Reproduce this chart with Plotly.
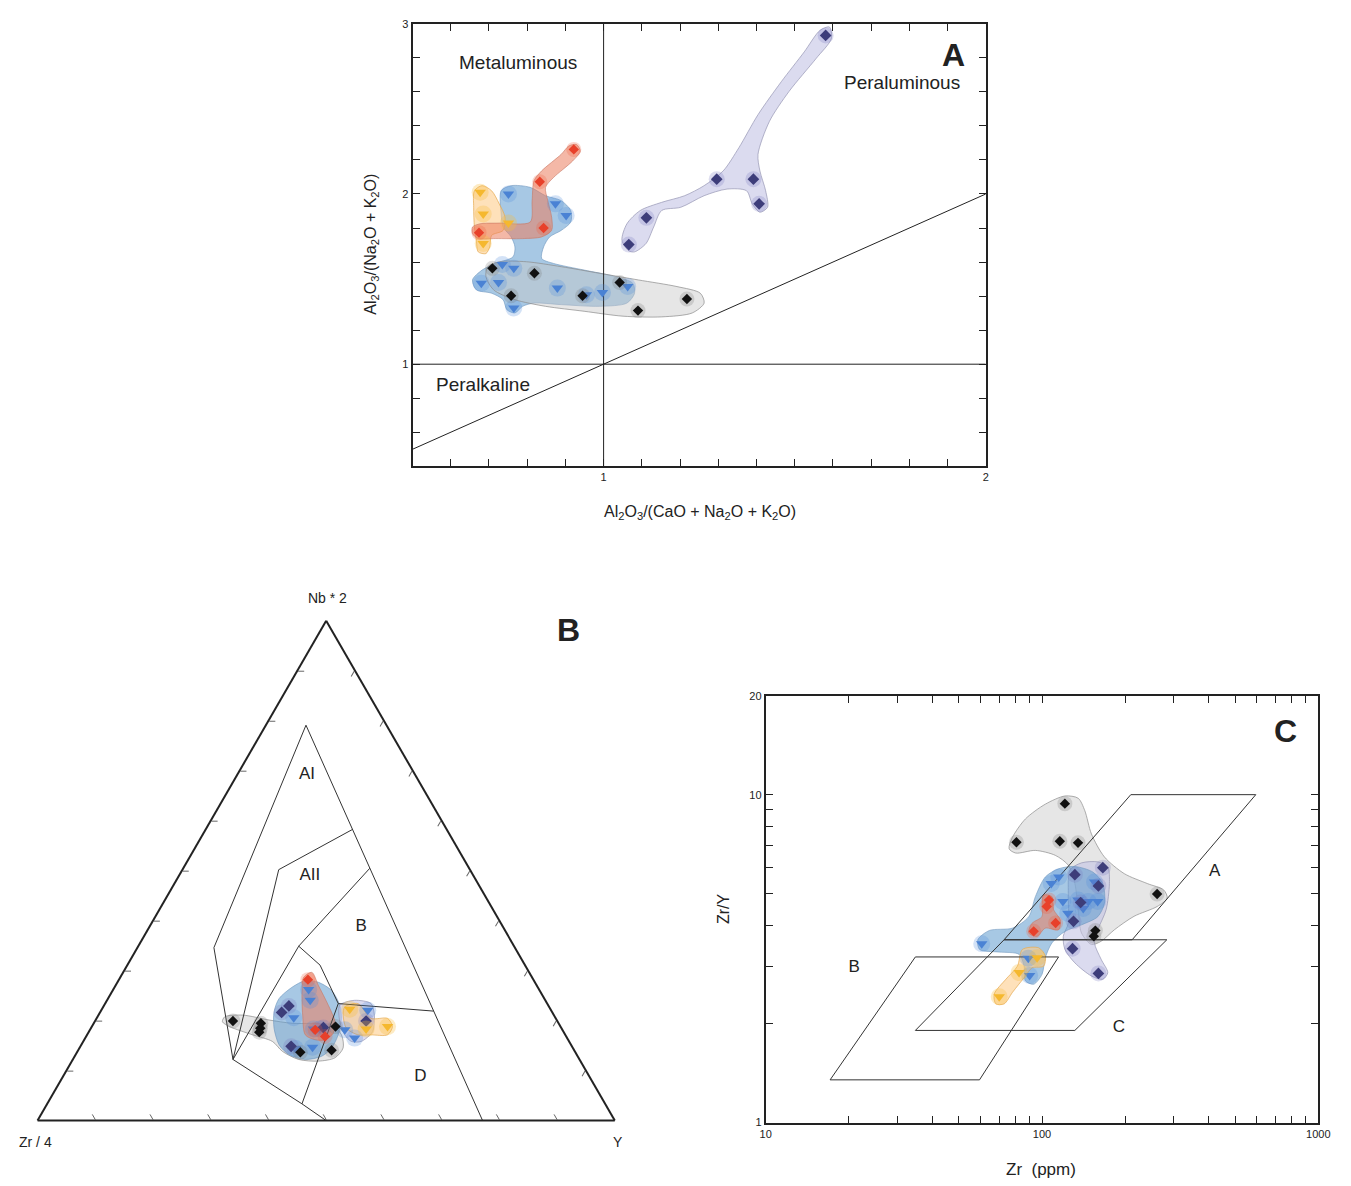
import numpy as np
import plotly.graph_objects as go

W, H = 1351, 1186
FONT = "Arial, Liberation Sans, Helvetica, sans-serif"
INK = "#222222"

# ---------------- Panel A : Shand index ----------------
a_black_x = [0.709, 0.819, 0.758, 0.945, 1.042, 1.090, 1.218]
a_black_y = [1.563, 1.534, 1.402, 1.402, 1.480, 1.315, 1.383]
a_purple_x = [1.581, 1.296, 1.392, 1.407, 1.112, 1.066]
a_purple_y = [2.932, 2.087, 2.087, 1.942, 1.860, 1.703]
a_blue_x = [0.751, 0.874, 0.902, 0.735, 0.765, 0.680, 0.725, 0.879, 0.955, 0.997, 1.063, 0.765]
a_blue_y = [2.000, 1.942, 1.874, 1.586, 1.563, 1.476, 1.480, 1.447, 1.408, 1.421, 1.456, 1.330]
a_yellow_x = [0.677, 0.685, 0.751, 0.685]
a_yellow_y = [2.010, 1.883, 1.829, 1.709]
a_red_x = [0.922, 0.833, 0.843, 0.674]
a_red_y = [2.262, 2.072, 1.800, 1.773]

a_vline = ([1.0, 1.0], [0.4, 3.0])
a_hline = ([0.5, 2.0], [1.0, 1.0])
a_diag = ([0.5, 2.0], [0.5, 2.0])

env_a_purple = [(1.066, 1.666), (1.048, 1.728), (1.061, 1.825), (1.096, 1.903), (1.152, 1.951), (1.212, 1.990),
                (1.263, 2.049), (1.313, 2.136), (1.354, 2.272), (1.404, 2.466), (1.465, 2.660), (1.525, 2.835),
                (1.566, 2.961), (1.591, 2.981), (1.596, 2.913), (1.556, 2.796), (1.485, 2.602), (1.434, 2.427),
                (1.404, 2.233), (1.409, 2.136), (1.424, 2.019), (1.429, 1.922), (1.409, 1.893), (1.389, 1.942),
                (1.374, 2.019), (1.323, 2.029), (1.263, 1.990), (1.202, 1.922), (1.152, 1.903), (1.131, 1.806),
                (1.111, 1.709), (1.081, 1.660)]
env_a_grey = [(0.697, 1.573), (0.727, 1.602), (0.798, 1.602), (0.889, 1.573), (0.990, 1.534), (1.091, 1.495),
              (1.192, 1.456), (1.253, 1.417), (1.263, 1.359), (1.232, 1.301), (1.152, 1.278), (1.051, 1.282),
              (0.949, 1.311), (0.848, 1.340), (0.768, 1.379), (0.712, 1.437), (0.692, 1.515)]
env_a_blue = [(0.732, 2.019), (0.758, 2.049), (0.808, 2.039), (0.848, 1.990), (0.889, 1.961), (0.914, 1.903),
              (0.914, 1.835), (0.889, 1.786), (0.859, 1.748), (0.843, 1.689), (0.838, 1.621), (0.869, 1.592),
              (0.949, 1.553), (1.030, 1.515), (1.076, 1.476), (1.081, 1.417), (1.061, 1.359), (0.990, 1.340),
              (0.889, 1.350), (0.818, 1.359), (0.788, 1.340), (0.768, 1.301), (0.747, 1.320), (0.737, 1.379),
              (0.707, 1.417), (0.667, 1.437), (0.657, 1.495), (0.682, 1.553), (0.717, 1.592), (0.763, 1.631),
              (0.768, 1.689), (0.758, 1.748), (0.737, 1.806), (0.732, 1.883)]
env_a_red = [(0.657, 1.806), (0.677, 1.825), (0.727, 1.829), (0.808, 1.835), (0.813, 1.961), (0.818, 2.078),
             (0.838, 2.136), (0.889, 2.233), (0.909, 2.282), (0.929, 2.291), (0.939, 2.252), (0.919, 2.194),
             (0.869, 2.097), (0.848, 2.039), (0.854, 1.961), (0.864, 1.864), (0.864, 1.786), (0.838, 1.748),
             (0.788, 1.738), (0.717, 1.738), (0.672, 1.738), (0.657, 1.767)]
env_a_yellow = [(0.662, 2.019), (0.682, 2.049), (0.707, 2.019), (0.727, 1.942), (0.742, 1.864), (0.737, 1.786),
                (0.707, 1.757), (0.702, 1.689), (0.692, 1.650), (0.672, 1.660), (0.667, 1.728), (0.662, 1.806),
                (0.660, 1.922)]

# ---------------- Panel B : Nb*2 - Zr/4 - Y ternary (a = Nb*2, c = Y) ----------------
b_black_a = [0.1992, 0.1947, 0.1848, 0.1769, 0.1367, 0.1406, 0.1880]
b_black_c = [0.2389, 0.2895, 0.2934, 0.2956, 0.3869, 0.4391, 0.4222]
b_purple_a = [0.2164, 0.2294, 0.1485, 0.1860, 0.1992]
b_purple_c = [0.3146, 0.3207, 0.3650, 0.4022, 0.4696]
b_blue_a = [0.2623, 0.2406, 0.2057, 0.1834, 0.1834, 0.1815, 0.1650, 0.2209, 0.1466, 0.1440]
b_blue_c = [0.3384, 0.3520, 0.3410, 0.3864, 0.3977, 0.4415, 0.4668, 0.4616, 0.4031, 0.3747]
b_red_a = [0.2820, 0.1683, 0.1815]
b_red_c = [0.3274, 0.4139, 0.3902]
b_yellow_a = [0.2229, 0.1834, 0.1880]
b_yellow_c = [0.4293, 0.4775, 0.5123]

b_fields = [
    [(0.791, 0.0695), (0.0, 0.771)],
    [(0.791, 0.0695), (0.346, 0.1325), (0.1223, 0.2774), (0.0335, 0.4413), (0.0, 0.5)],
    [(0.1223, 0.2774), (0.502, 0.1668), (0.5825, 0.2544)],
    [(0.1223, 0.2774), (0.349, 0.2779), (0.5049, 0.3232)],
    [(0.349, 0.2779), (0.311, 0.3339), (0.2341, 0.4039), (0.0335, 0.4413)],
    [(0.2341, 0.4039), (0.219, 0.5768)],
]
b_field_labels = ["AI", "AII", "B", "D"]
b_field_label_a = [0.692, 0.489, 0.3886, 0.0868]
b_field_label_c = [0.1207, 0.2272, 0.3664, 0.6198]

env_b_grey = [(0.2077, 0.2205), (0.2110, 0.2501), (0.2012, 0.3006), (0.1947, 0.3437), (0.1913, 0.4137),
              (0.1716, 0.4407), (0.1453, 0.4567), (0.1256, 0.4523), (0.1190, 0.4271), (0.1223, 0.3913),
              (0.1387, 0.3546), (0.1584, 0.3276), (0.1716, 0.2868), (0.1880, 0.2388), (0.1979, 0.2213)]
env_b_blue = [(0.2440, 0.2963), (0.2669, 0.3076), (0.2801, 0.3238), (0.2767, 0.3482), (0.2604, 0.3792),
              (0.2308, 0.4082), (0.2045, 0.4242), (0.1716, 0.4350), (0.1453, 0.4367), (0.1288, 0.4279),
              (0.1223, 0.4027), (0.1321, 0.3693), (0.1519, 0.3424), (0.1848, 0.3173), (0.2176, 0.3009)]
env_b_purple = [(0.2308, 0.4082), (0.2406, 0.4290), (0.2341, 0.4607), (0.2110, 0.4780), (0.1781, 0.4915),
                (0.1584, 0.4815), (0.1584, 0.4644), (0.1716, 0.4464), (0.1979, 0.4247)]
env_b_red = [(0.2866, 0.3177), (0.2965, 0.3270), (0.2702, 0.3515), (0.2308, 0.3883), (0.1979, 0.4162),
             (0.1749, 0.4248), (0.1617, 0.4171), (0.1617, 0.4000), (0.1716, 0.3780), (0.2110, 0.3538),
             (0.2570, 0.3296)]
env_b_yellow = [(0.2274, 0.4185), (0.2341, 0.4379), (0.2045, 0.4755), (0.2045, 0.5040), (0.1880, 0.5208),
                (0.1716, 0.5205), (0.1716, 0.4920), (0.1716, 0.4692), (0.1848, 0.4426), (0.2110, 0.4239)]

# ---------------- Panel C : Zr/Y vs Zr ----------------
c_black_x = [121, 80.8, 116, 135, 261, 156, 154]
c_black_y = [9.39, 7.16, 7.21, 7.13, 4.98, 3.85, 3.70]
c_purple_x = [166, 131.5, 160, 138, 130, 129, 160]
c_purple_y = [5.99, 5.70, 5.27, 4.69, 4.11, 3.39, 2.85]
c_blue_x = [115, 108, 155, 119, 135, 147, 159, 141, 124, 60.5, 90.2, 89.2]
c_blue_y = [5.61, 5.36, 5.42, 4.72, 4.77, 4.72, 4.72, 4.50, 4.35, 3.51, 2.81, 3.17]
c_red_x = [106, 104, 112, 93.3]
c_red_y = [4.77, 4.56, 4.06, 3.83]
c_yellow_x = [96, 82.6, 70]
c_yellow_y = [3.18, 2.87, 2.42]

c_field_A = [(209.6, 10.0), (594, 10.0), (212, 3.61), (72.9, 3.61), (209.6, 10.0)]
c_field_C = [(72.9, 3.61), (283, 3.61), (131.5, 1.91), (34.8, 1.91), (72.9, 3.61)]
c_field_B = [(34.8, 3.2), (114.8, 3.2), (59.4, 1.35), (17.1, 1.35), (34.8, 3.2)]
c_field_labels = ["A", "B", "C"]
c_field_label_x = [422, 20.9, 190]
c_field_label_y = [5.81, 2.96, 1.95]

# envelopes stored as (log10 Zr, log10 Zr/Y)
env_c_grey_log = [(1.881, 0.835), (1.893, 0.870), (1.940, 0.926), (2.012, 0.971), (2.083, 0.996), (2.131, 0.989),
                  (2.155, 0.951), (2.179, 0.880), (2.226, 0.810), (2.298, 0.759), (2.381, 0.729), (2.441, 0.709),
                  (2.453, 0.684), (2.417, 0.659), (2.333, 0.629), (2.262, 0.588), (2.214, 0.553), (2.179, 0.543),
                  (2.143, 0.578), (2.131, 0.649), (2.119, 0.729), (2.095, 0.785), (2.048, 0.815), (1.976, 0.830),
                  (1.905, 0.822)]
env_c_purple_log = [(2.101, 0.770), (2.143, 0.792), (2.202, 0.795), (2.238, 0.780), (2.244, 0.729), (2.232, 0.649),
                    (2.202, 0.588), (2.190, 0.548), (2.214, 0.498), (2.238, 0.457), (2.220, 0.437), (2.179, 0.447),
                    (2.119, 0.487), (2.083, 0.528), (2.077, 0.568), (2.095, 0.608), (2.095, 0.699)]
env_c_blue_log = [(2.060, 0.774), (2.012, 0.749), (1.976, 0.689), (1.952, 0.628), (1.893, 0.593), (1.810, 0.586),
                  (1.768, 0.558), (1.774, 0.528), (1.845, 0.520), (1.917, 0.513), (1.935, 0.477), (1.940, 0.432),
                  (1.970, 0.422), (2.000, 0.452), (2.012, 0.503), (2.036, 0.548), (2.083, 0.583), (2.143, 0.603),
                  (2.202, 0.628), (2.226, 0.669), (2.220, 0.729), (2.184, 0.764), (2.119, 0.781)]
env_c_red_log = [(2.006, 0.694), (2.036, 0.689), (2.042, 0.649), (2.066, 0.618), (2.060, 0.588), (2.012, 0.593),
                 (1.982, 0.568), (1.952, 0.578), (1.964, 0.608), (2.000, 0.628), (2.000, 0.664)]
env_c_yellow_log = [(1.929, 0.528), (1.988, 0.533), (2.012, 0.508), (2.006, 0.477), (1.964, 0.472), (1.940, 0.447),
                    (1.893, 0.397), (1.863, 0.362), (1.833, 0.362), (1.827, 0.392), (1.869, 0.437), (1.911, 0.477)]

# tick positions
a_xticks_major = [1.0, 2.0]
a_xticks_minor = [round(0.5 + 0.1 * i, 1) for i in range(16) if round(0.5 + 0.1 * i, 1) not in (1.0, 2.0)]
a_yticks_major = [1.0, 2.0, 3.0]
a_yticks_minor = [round(0.4 + 0.2 * i, 1) for i in range(14) if round(0.4 + 0.2 * i, 1) not in (1.0, 2.0, 3.0)]
c_xticks_major = [10, 100, 1000]
c_xticks_minor = [m * 10 ** e for e in (1, 2) for m in range(2, 10)]
c_yticks_major = [1, 10, 20]
c_yticks_minor = list(range(2, 10))

# ---------------- styles ----------------
ENV = {
    "grey": ("rgba(200,200,200,0.45)", "rgba(140,140,140,0.7)"),
    "blue": ("rgba(95,155,205,0.55)", "rgba(110,150,190,0.6)"),
    "red": ("rgba(235,125,95,0.55)", "rgba(200,120,100,0.6)"),
    "yellow": ("rgba(253,205,140,0.6)", "rgba(230,170,80,0.7)"),
    "purple": ("rgba(195,195,228,0.6)", "rgba(150,150,180,0.7)"),
}
MK = {
    "black": dict(symbol="diamond", size=8, color="#111111"),
    "purple": dict(symbol="diamond", size=9, color="#3d3d7a"),
    "blue": dict(symbol="triangle-down", size=10, color="#4a82d4"),
    "red": dict(symbol="diamond", size=8, color="#e8402a"),
    "yellow": dict(symbol="triangle-down", size=10, color="#f5b82e"),
}
HALO = {
    "black": "rgba(120,120,120,0.25)",
    "purple": "rgba(120,120,190,0.25)",
    "blue": "rgba(80,140,220,0.25)",
    "red": "rgba(240,90,60,0.25)",
    "yellow": "rgba(250,190,60,0.3)",
}

fig = go.Figure()


def close(pts):
    return list(pts) + [pts[0]]


def halo(name):
    return dict(symbol="circle", size=MK[name]["size"] + 7, color=HALO[name])


# ---- Panel A ----
for name, env in [("blue", env_a_blue), ("yellow", env_a_yellow), ("grey", env_a_grey),
                  ("red", env_a_red), ("purple", env_a_purple)]:
    p = close(env)
    fig.add_trace(go.Scatter(x=[q[0] for q in p], y=[q[1] for q in p], mode="lines", fill="toself",
                             fillcolor=ENV[name][0], line=dict(color=ENV[name][1], width=1, shape="spline", smoothing=0.8),
                             hoverinfo="skip", xaxis="x", yaxis="y"))
for lx, ly in [a_vline, a_hline, a_diag]:
    fig.add_trace(go.Scatter(x=lx, y=ly, mode="lines", line=dict(color=INK, width=1), hoverinfo="skip",
                             xaxis="x", yaxis="y"))
for name, xs, ys in [("blue", a_blue_x, a_blue_y), ("yellow", a_yellow_x, a_yellow_y), ("red", a_red_x, a_red_y),
                     ("purple", a_purple_x, a_purple_y), ("black", a_black_x, a_black_y)]:
    fig.add_trace(go.Scatter(x=xs, y=ys, mode="markers", marker=halo(name), hoverinfo="skip", xaxis="x", yaxis="y"))
    fig.add_trace(go.Scatter(x=xs, y=ys, mode="markers", marker=MK[name], xaxis="x", yaxis="y"))

# ---- Panel B ----
for name, env in [("grey", env_b_grey), ("blue", env_b_blue), ("purple", env_b_purple),
                  ("yellow", env_b_yellow), ("red", env_b_red)]:
    p = close(env)
    aa = [q[0] for q in p]
    cc = [q[1] for q in p]
    fig.add_trace(go.Scatterternary(a=aa, c=cc, b=[1 - x - y for x, y in zip(aa, cc)], mode="lines", fill="toself",
                                    fillcolor=ENV[name][0], line=dict(color=ENV[name][1], width=1, shape="spline", smoothing=0.8),
                                    hoverinfo="skip", subplot="ternary"))
for seg in b_fields:
    aa = [q[0] for q in seg]
    cc = [q[1] for q in seg]
    fig.add_trace(go.Scatterternary(a=aa, c=cc, b=[1 - x - y for x, y in zip(aa, cc)], mode="lines",
                                    line=dict(color="#333333", width=1), hoverinfo="skip", subplot="ternary"))
for name, aa, cc in [("blue", b_blue_a, b_blue_c), ("purple", b_purple_a, b_purple_c), ("yellow", b_yellow_a, b_yellow_c),
                     ("red", b_red_a, b_red_c), ("black", b_black_a, b_black_c)]:
    bb = [1 - x - y for x, y in zip(aa, cc)]
    fig.add_trace(go.Scatterternary(a=aa, c=cc, b=bb, mode="markers", marker=halo(name), hoverinfo="skip",
                                    subplot="ternary"))
    fig.add_trace(go.Scatterternary(a=aa, c=cc, b=bb, mode="markers", marker=MK[name], subplot="ternary"))
fig.add_trace(go.Scatterternary(a=b_field_label_a, c=b_field_label_c,
                                b=[1 - x - y for x, y in zip(b_field_label_a, b_field_label_c)],
                                mode="text", text=b_field_labels, textfont=dict(family=FONT, size=17, color=INK),
                                hoverinfo="skip", subplot="ternary"))

# ---- Panel C ----
for name, env in [("grey", env_c_grey_log), ("purple", env_c_purple_log), ("blue", env_c_blue_log),
                  ("yellow", env_c_yellow_log), ("red", env_c_red_log)]:
    p = close(env)
    fig.add_trace(go.Scatter(x=[10 ** q[0] for q in p], y=[10 ** q[1] for q in p], mode="lines", fill="toself",
                             fillcolor=ENV[name][0], line=dict(color=ENV[name][1], width=1, shape="spline", smoothing=0.8),
                             hoverinfo="skip", xaxis="x2", yaxis="y2"))
for poly in [c_field_A, c_field_C, c_field_B]:
    fig.add_trace(go.Scatter(x=[q[0] for q in poly], y=[q[1] for q in poly], mode="lines",
                             line=dict(color="#333333", width=1), hoverinfo="skip", xaxis="x2", yaxis="y2"))
for name, xs, ys in [("blue", c_blue_x, c_blue_y), ("yellow", c_yellow_x, c_yellow_y), ("red", c_red_x, c_red_y),
                     ("purple", c_purple_x, c_purple_y), ("black", c_black_x, c_black_y)]:
    fig.add_trace(go.Scatter(x=xs, y=ys, mode="markers", marker=halo(name), hoverinfo="skip", xaxis="x2", yaxis="y2"))
    fig.add_trace(go.Scatter(x=xs, y=ys, mode="markers", marker=MK[name], xaxis="x2", yaxis="y2"))
fig.add_trace(go.Scatter(x=c_field_label_x, y=c_field_label_y, mode="text", text=c_field_labels,
                         textfont=dict(family=FONT, size=17, color=INK), hoverinfo="skip", xaxis="x2", yaxis="y2"))

# ---------------- axes ----------------
ax_common = dict(showgrid=False, zeroline=False, showline=True, linewidth=2, linecolor=INK, mirror="ticks",
                 ticks="inside", ticklen=7, tickwidth=1, tickcolor=INK,
                 tickfont=dict(family=FONT, size=11, color=INK))


def minor(vals):
    return dict(tickvals=vals, ticks="inside", ticklen=7, tickwidth=1, tickcolor=INK, showgrid=False)


tern_ax = dict(showgrid=False, showline=True, linewidth=2, linecolor=INK, ticks="inside", ticklen=6,
               tickcolor="#666666", dtick=0.1, showticklabels=False, title=dict(text=""))

fig.update_layout(
    width=W, height=H, margin=dict(l=0, r=0, t=0, b=0), showlegend=False,
    paper_bgcolor="white", plot_bgcolor="white",
    font=dict(family=FONT, color=INK),
    xaxis=dict(domain=[412 / W, 993 / W], range=[0.5, 2.0], anchor="y",
               tickvals=a_xticks_major, ticktext=["1", "2"], minor=minor(a_xticks_minor), **ax_common),
    yaxis=dict(domain=[1 - 465 / H, 1 - 18 / H], range=[0.4, 3.0], anchor="x",
               tickvals=a_yticks_major, ticktext=["1", "2", "3"], minor=minor(a_yticks_minor), **ax_common),
    xaxis2=dict(domain=[770 / W, 1330 / W], type="log", range=[1, 3], anchor="y2",
                tickvals=c_xticks_major, ticktext=["10", "100", "1000"], minor=minor(c_xticks_minor), **ax_common),
    yaxis2=dict(domain=[1 - 1128 / H, 1 - 697 / H], type="log", range=[0, np.log10(20)], anchor="x2",
                tickvals=c_yticks_major, ticktext=["1", "10", "20"], minor=minor(c_yticks_minor), **ax_common),
    ternary=dict(
        domain=dict(x=[32 / W, 617 / W], y=[1 - 1127 / H, 1 - 620 / H]), sum=1, bgcolor="white",
        aaxis=tern_ax, baxis=tern_ax, caxis=tern_ax,
    ),
)


def ann(text, x, y, size, xref="paper", yref="paper", bold=False, angle=0):
    fig.add_annotation(text=f"<b>{text}</b>" if bold else text, x=x, y=y, xref=xref, yref=yref, showarrow=False,
                       textangle=angle, font=dict(family=FONT, size=size, color=INK), xanchor="center", yanchor="middle")


# Panel A texts
ann("Metaluminous", 0.775, 2.77, 19, "x", "y")
ann("Peraluminous", 1.78, 2.655, 19, "x", "y")
ann("Peralkaline", 0.684, 0.883, 19, "x", "y")
ann("A", 960 / W, 1 - 50 / H, 32, bold=True)
ann("Al<sub>2</sub>O<sub>3</sub>/(Na<sub>2</sub>O + K<sub>2</sub>O)", 370 / W, 1 - 241 / H, 16, angle=-90)
ann("Al<sub>2</sub>O<sub>3</sub>/(CaO + Na<sub>2</sub>O + K<sub>2</sub>O)", 703 / W, 1 - 512 / H, 16)
# Panel B texts
ann("Nb * 2", 326 / W, 1 - 598 / H, 14)
ann("Zr / 4", 30 / W, 1 - 1148 / H, 14)
ann("Y", 620 / W, 1 - 1148 / H, 14)
ann("B", 570 / W, 1 - 630 / H, 32, bold=True)
# Panel C texts
ann("C", 1297 / W, 1 - 732 / H, 32, bold=True)
ann("Zr\u00a0\u00a0(ppm)", 1049 / W, 1 - 1175 / H, 17)
ann("Zr/Y", 727 / W, 1 - 912 / H, 16, angle=-90)

fig.write_html("out.html", config={"displayModeBar": False},
               post_script="document.documentElement.style.overflow='hidden';"
                           "document.body.style.margin='0px';document.body.style.overflow='hidden';")
